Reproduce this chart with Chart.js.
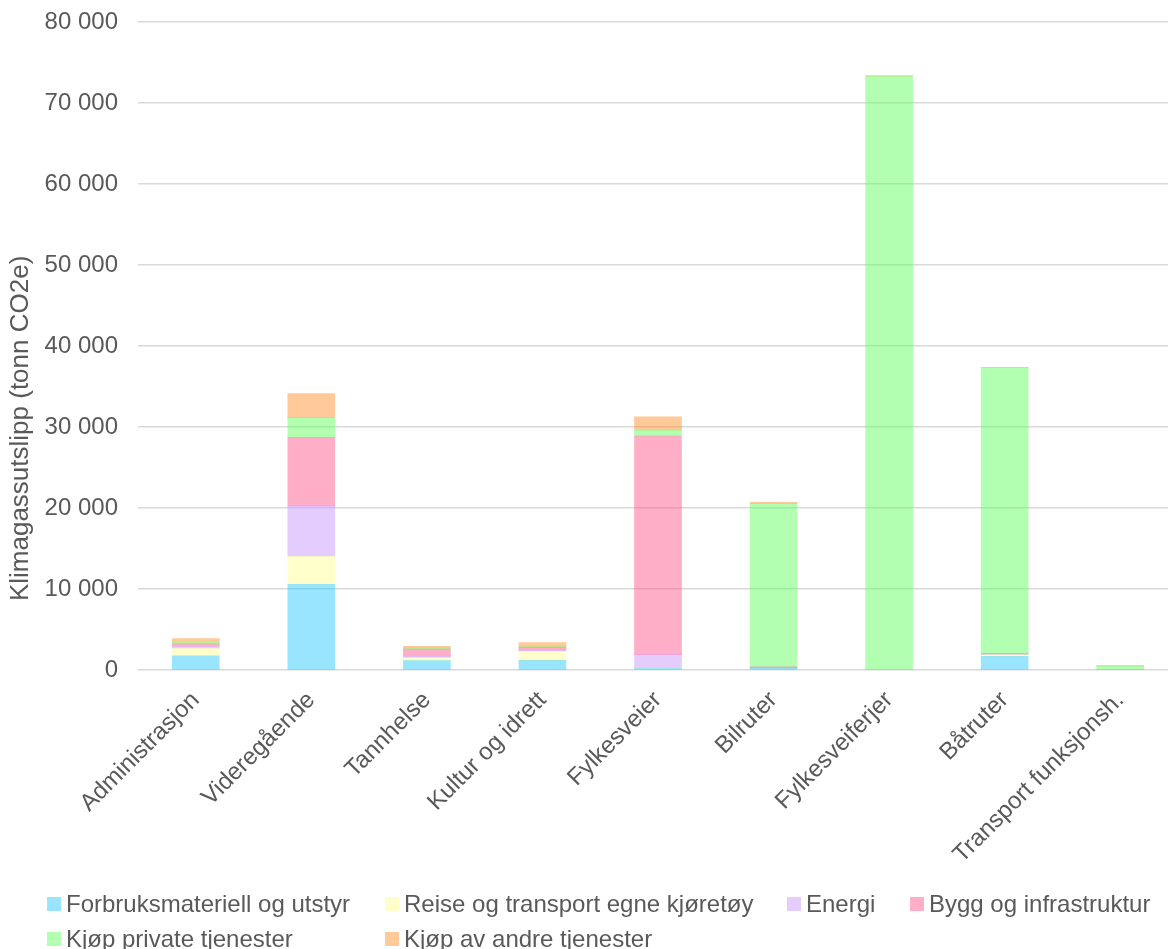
<!DOCTYPE html>
<html>
<head>
<meta charset="utf-8">
<script src="https://cdn.jsdelivr.net/npm/chart.js@4/dist/chart.umd.min.js"></script>
<style>
  html, body { margin: 0; padding: 0; background: #fff; overflow: hidden; }
  #wrap { position: relative; width: 1178px; height: 899px; }
  #legend { position: absolute; left: 0; top: 880px; width: 1168px; height: 69px;
            font-family: "Liberation Sans", Arial, sans-serif; font-size: 24px; color: #595959; }
  .item { position: absolute; display: flex; align-items: center; white-space: nowrap; height: 28px; }
  .box { width: 14px; height: 14px; margin-right: 5px; display: inline-block; }
</style>
</head>
<body>
<div id="wrap"><canvas id="c"></canvas></div>
<div id="legend"></div>
<script>
// Emissions per sector (tonn CO2e), stacked by category
const categories = ['Administrasjon', 'Videregående', 'Tannhelse', 'Kultur og idrett', 'Fylkesveier',
                    'Bilruter', 'Fylkesveiferjer', 'Båtruter', 'Transport funksjonsh.'];
const forbruksmateriell = [1770, 10600, 1160, 1200, 250, 250, 0, 1700, 0];
const reiseTransport    = [920, 3450, 370, 1120, 50, 0, 0, 200, 0];
const energi            = [250, 6220, 200, 150, 1600, 50, 0, 50, 0];
const byggInfra         = [290, 8430, 860, 300, 26990, 100, 0, 80, 0];
const kjopPrivate       = [200, 2470, 130, 135, 710, 20170, 73300, 35300, 520];
const kjopAndre         = [460, 2960, 200, 500, 1650, 130, 100, 20, 50];
const yTicks = [0, 10000, 20000, 30000, 40000, 50000, 60000, 70000, 80000];
const yTitle = 'Klimagassutslipp (tonn CO2e)';

const seriesNames = ['Forbruksmateriell og utstyr', 'Reise og transport egne kjøretøy', 'Energi',
                     'Bygg og infrastruktur', 'Kjøp private tjenester', 'Kjøp av andre tjenester'];
const seriesData = [forbruksmateriell, reiseTransport, energi, byggInfra, kjopPrivate, kjopAndre];
const seriesColors = ['rgba(51,204,255,0.5)', 'rgba(255,255,153,0.5)', 'rgba(204,153,255,0.5)',
                      'rgba(255,93,145,0.5)', 'rgba(102,255,102,0.5)', 'rgba(255,147,51,0.5)'];

const fmt = v => String(v).replace(/\B(?=(\d{3})+(?!\d))/g, ' ');
const font = 'Liberation Sans, Arial, sans-serif';
const grey = '#595959';

// Vertical axis title, drawn bottom-up beside the value labels
const axisTitle = {
  id: 'axisTitle',
  afterDraw(c) {
    const ctx = c.ctx;
    ctx.save();
    ctx.translate(21, c.chartArea.bottom - 69);
    ctx.rotate(-Math.PI / 2);
    ctx.font = '26px ' + font;
    ctx.fillStyle = grey;
    ctx.textAlign = 'left';
    ctx.textBaseline = 'middle';
    ctx.fillText(yTitle, 0, 0);
    ctx.restore();
  }
};

const chart = new Chart(document.getElementById('c'), {
  type: 'bar',
  data: {
    labels: categories,
    datasets: seriesNames.map((name, i) => ({
      label: name,
      data: seriesData[i],
      backgroundColor: seriesColors[i],
      borderWidth: 0,
      barThickness: 47
    }))
  },
  options: {
    responsive: true,
    maintainAspectRatio: false,
    animation: false,
    layout: { padding: { top: 22, left: 3, right: 0, bottom: 14 } },
    plugins: { legend: { display: false }, tooltip: { enabled: false } },
    scales: {
      x: {
        stacked: true,
        grid: { display: false, drawTicks: false },
        border: { display: false },
        ticks: { color: grey, font: { family: font, size: 24 }, minRotation: 45, maxRotation: 45, padding: 16 },
        afterFit: s => { s.paddingLeft = 0; s.paddingRight = 0; }
      },
      y: {
        stacked: true,
        min: 0,
        max: 80000,
        afterBuildTicks: axis => { axis.ticks = yTicks.map(v => ({ value: v })); },
        // fixed axis band: title + labels + gap, so the plot starts at x = 138
        afterFit: s => { s.width = 135; s.paddingTop = 0; s.paddingBottom = 0; },
        grid: { color: '#d9d9d9', lineWidth: 1.5, drawTicks: false },
        border: { display: false },
        ticks: { color: grey, font: { family: font, size: 24 }, padding: 20, callback: v => fmt(v) }
      }
    }
  },
  plugins: [axisTitle]
});

// Legend laid out in two rows below the chart
const legendSlots = [[47, 24], [385, 24], [787, 24], [910, 24], [47, 59], [385, 59]];
const legend = document.getElementById('legend');
seriesNames.forEach((name, i) => {
  const el = document.createElement('div');
  el.className = 'item';
  el.style.left = legendSlots[i][0] + 'px';
  el.style.top = (legendSlots[i][1] - 14) + 'px';
  const box = document.createElement('span');
  box.className = 'box';
  box.style.background = seriesColors[i];
  el.appendChild(box);
  el.appendChild(document.createTextNode(name));
  legend.appendChild(el);
});
</script>
</body>
</html>
